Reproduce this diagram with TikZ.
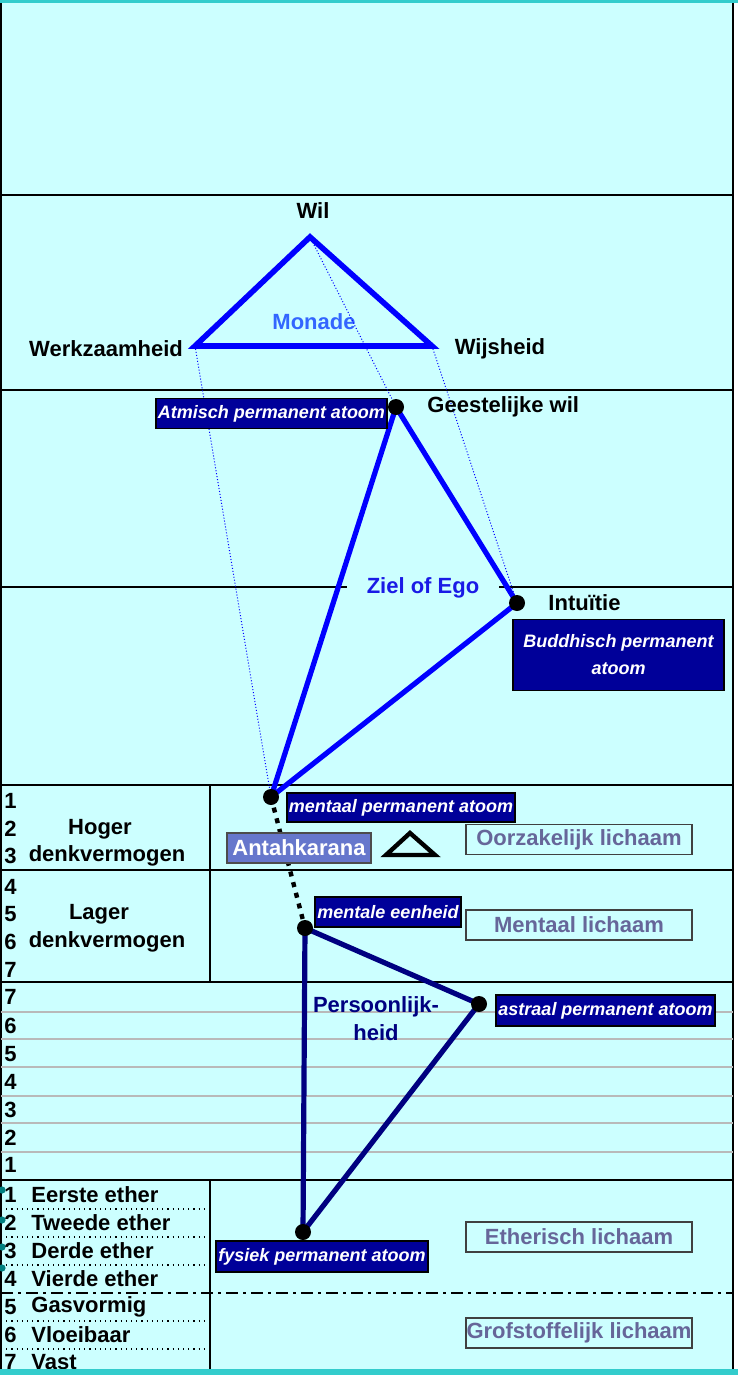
\documentclass[tikz,border=0pt]{standalone}
\usepackage{fontspec}
\setmainfont{Liberation Sans}
\usetikzlibrary{positioning,calc}
\definecolor{bgcyan}{HTML}{CCFFFF}
\definecolor{barteal}{HTML}{33CCCC}
\definecolor{atomblue}{HTML}{000099}
\definecolor{persnavy}{HTML}{000080}
\definecolor{antahblue}{HTML}{6677CC}
\definecolor{bodygray}{HTML}{666699}
\definecolor{monadeblue}{HTML}{3366FF}
\definecolor{zielblue}{HTML}{1A1AE6}

\begin{document}
\begin{tikzpicture}[x=0.5pt,y=-0.5pt,font=\fontsize{11}{13}\selectfont\bfseries,
	plane/.style={line width=1.4pt},
	subplane/.style={line width=0.7pt,draw=gray!55},
	etherline/.style={line width=0.6pt,dotted},
	dot/.style={circle,fill=black,inner sep=0pt,minimum size=8pt},
	monade/.style={line width=2.8pt,draw=blue,line join=miter},
	ziel/.style={line width=2.6pt,draw=blue,line cap=round},
	pers/.style={line width=2.6pt,draw=persnavy,line cap=round},
	link/.style={line width=0.5pt,draw=blue,densely dotted},
	atom/.style={fill=atomblue,draw=black,line width=0.6pt,text=white,inner sep=0pt,font=\fontsize{9}{13.5}\selectfont\bfseries\itshape},
	body/.style={draw=black!75,line width=0.6pt,text=bodygray,minimum width=113pt,minimum height=15pt,inner sep=0pt},
	lvl/.style={anchor=west,inner sep=0pt}]
	\useasboundingbox (0,0) rectangle (738,1375);
	%% Background and frame
	\fill[white] (0,0) rectangle (738,1375);
	\fill[bgcyan] (0,0) rectangle (733,1375);
	\fill[barteal] (0,0) rectangle (738,3.5);
	\draw[line width=0.6pt] (1,3.5) -- (1,1369);
	\draw[plane] (733,3.5) -- (733,1369);
	
	%% Planes
	\draw[plane] (0,195) -- (733,195);
	\draw[plane] (0,390) -- (733,390);
	\draw[plane] (0,587) -- (733,587);
	\draw[plane] (0,785) -- (733,785);
	\draw[plane] (0,870) -- (733,870);
	\draw[plane] (0,982) -- (733,982);
	\draw[plane] (0,1180) -- (733,1180);
	\draw[plane] (210,785) -- (210,982);
	\draw[plane] (210,1180) -- (210,1369);
	
	%% Astral subplanes
	\draw[subplane] (1,1012) -- (733,1012);
	\draw[subplane] (1,1039) -- (733,1039);
	\draw[subplane] (1,1067) -- (733,1067);
	\draw[subplane] (1,1096) -- (733,1096);
	\draw[subplane] (1,1123) -- (733,1123);
	\draw[subplane] (1,1152) -- (733,1152);
	
	%% Physical subplanes
	\draw[etherline] (1,1209) -- (210,1209);
	\draw[etherline] (1,1237) -- (210,1237);
	\draw[etherline] (1,1265) -- (210,1265);
	\draw[etherline] (1,1321) -- (210,1321);
	\draw[etherline] (1,1349) -- (210,1349);
	\draw[line width=1.2pt,dash pattern=on 6pt off 2.5pt on 1.5pt off 2.5pt] (1,1293) -- (733,1293);
	\fill[teal] (2,1190) circle (1.8pt) (2,1220) circle (1.8pt) (2,1247) circle (1.8pt) (2,1268) circle (1.8pt);
	
	%% Monade
	\coordinate (wil) at (310,237);
	\coordinate (werk) at (195,346);
	\coordinate (wijs) at (432,346);
	\draw[monade] (wil) -- (wijs) -- (werk) -- cycle;
	\node (wilT) at (313,211) {Wil};
	\node (werkT) at (106,349) {Werkzaamheid};
	\node (wijsT) at (500,349) {Wijsheid};
	\node (monT) [text=monadeblue] at (314,322) {Monade};
	
	%% Ziel of Ego
	\coordinate (atm) at (396,407);
	\coordinate (bud) at (517,603);
	\coordinate (men) at (271,797);
	\draw[link] (werk) -- (men);
	\draw[link] (wil) -- (atm);
	\draw[link] (wijs) -- (bud);
	\node (zielT) [fill=bgcyan,text=zielblue,minimum width=76pt,inner ysep=1pt] at (423,588) {Ziel of Ego};
	\draw[ziel] (atm) -- (bud);
	\draw[ziel] (bud) -- (men);
	\draw[ziel] (men) -- (atm);
	
	%% Persoonlijkheid
	\coordinate (eenh) at (305,928);
	\coordinate (ast) at (479,1004);
	\coordinate (fys) at (303,1232);
	\draw[line width=2.2pt,dash pattern=on 2.5pt off 3pt] (men) -- (eenh);
	\draw[pers] (eenh) -- (ast);
	\draw[pers] (ast) -- (fys);
	\draw[pers] (fys) -- (eenh);
	\node (persT) [text=persnavy,align=center,font=\fontsize{11}{14}\selectfont\bfseries] at (376,1019) {Persoonlijk-\\heid};
	
	%% Permanent atoms
	\node (atmDot) [dot] at (atm) {};
	\node (budDot) [dot] at (bud) {};
	\node (menDot) [dot] at (men) {};
	\node (eenhDot) [dot] at (eenh) {};
	\node (astDot) [dot] at (ast) {};
	\node (fysDot) [dot] at (fys) {};
	\node (atmBox) [atom,minimum width=115.5pt,minimum height=15pt] at (271.5,413.5) {Atmisch permanent atoom};
	\node (atmT) [right=8pt of atmDot] {Geestelijke wil};
	\node (budT) [right=8pt of budDot] {Intuïtie};
	\node (budBox) [atom,align=center,minimum width=105.5pt,minimum height=35.5pt] at (618.5,655) {Buddhisch permanent\\atoom};
	\node (menBox) [atom,minimum width=114pt,minimum height=14.5pt] at (401,807.5) {mentaal permanent atoom};
	\node (eenhBox) [atom,minimum width=73pt,minimum height=15pt] at (388,912) {mentale eenheid};
	\node (astBox) [atom,minimum width=109.5pt,minimum height=15.5pt] at (605.5,1010.5) {astraal permanent atoom};
	\node (fysBox) [atom,minimum width=106pt,minimum height=15.5pt] at (322,1256.5) {fysiek permanent atoom};
	
	%% Antahkarana
	\node (antah) [fill=antahblue,draw=black!70,line width=0.6pt,text=white,minimum width=72pt,minimum height=15pt,inner sep=0pt] at (299,848) {Antahkarana};
	\coordinate (tTop) at (410,833);
	\coordinate (tLeft) at (386,855);
	\coordinate (tRight) at (435,855);
	\draw[line width=2.2pt] (tTop) -- (tRight) -- (tLeft) -- cycle;
	
	%% Bodies
	\node (oorz) [body] at (579,839.5) {Oorzakelijk lichaam};
	\node (ment) [body] at (579,925) {Mentaal lichaam};
	\node (ether) [body] at (579,1237) {Etherisch lichaam};
	\node (grof) [body] at (579,1333) {Grofstoffelijk lichaam};
	
	%% Mental subplanes
	\node [lvl] at (4,801) {1};
	\node [lvl] at (4,829) {2};
	\node [lvl] at (4,856) {3};
	\node [lvl] at (4,887) {4};
	\node [lvl] at (4,914) {5};
	\node [lvl] at (4,942) {6};
	\node [lvl] at (4,970) {7};
	\node (hoger) at (100,829) {Hoger};
	\node (hogerD) at (107,856) {denkvermogen};
	\node (lager) at (99,914) {Lager};
	\node (lagerD) at (107,942) {denkvermogen};
	
	%% Astral subplanes
	\node [lvl] at (4,997) {7};
	\node [lvl] at (4,1026) {6};
	\node [lvl] at (4,1054) {5};
	\node [lvl] at (4,1082) {4};
	\node [lvl] at (4,1110) {3};
	\node [lvl] at (4,1138) {2};
	\node [lvl] at (4,1165) {1};
	
	%% Physical subplanes
	\node [lvl] at (4,1195) {1}; \node [lvl] at (31,1195) {Eerste ether};
	\node [lvl] at (4,1223) {2}; \node [lvl] at (31,1223) {Tweede ether};
	\node [lvl] at (4,1251) {3}; \node [lvl] at (31,1251) {Derde ether};
	\node [lvl] at (4,1279) {4}; \node [lvl] at (31,1279) {Vierde ether};
	\node [lvl] at (4,1307) {5}; \node [lvl] at (31,1307) {Gasvormig};
	\node [lvl] at (4,1335) {6}; \node [lvl] at (31,1335) {Vloeibaar};
	\node [lvl] at (4,1362) {7}; \node [lvl] at (31,1362) {Vast};
	\fill[barteal] (0,1369) rectangle (738,1375);
\end{tikzpicture}
\end{document}
